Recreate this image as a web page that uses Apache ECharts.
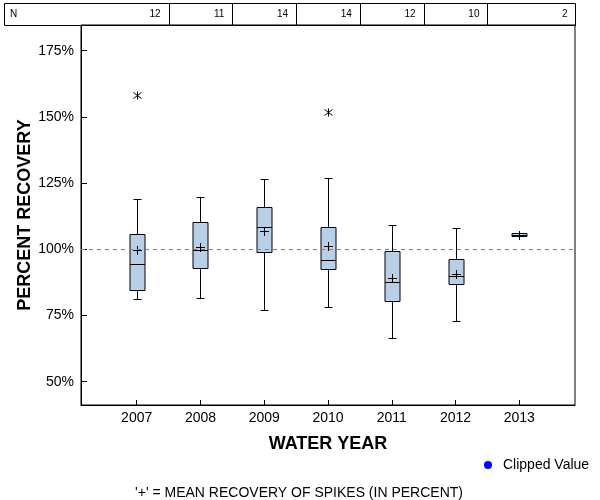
<!DOCTYPE html>
<html><head><meta charset="utf-8">
<script src="https://cdn.jsdelivr.net/npm/echarts@6/dist/echarts.min.js"></script>
<style>html,body{margin:0;padding:0;background:#fff}#c{width:600px;height:500px}</style>
</head><body><div id="c"></div>
<script>
const years = [2007, 2008, 2009, 2010, 2011, 2012, 2013];
const counts = [12, 11, 14, 14, 12, 10, 2];
const lowWhisker = [81.1, 81.5, 77.0, 78.1, 66.4, 72.8, 104.9];
const q1 = [84.5, 92.8, 98.9, 92.4, 80.4, 86.8, 104.9];
const median = [94.4, 99.6, 108.4, 95.8, 87.5, 89.8, 105.4];
const q3 = [105.7, 110.2, 115.9, 108.3, 99.2, 96.2, 106.0];
const highWhisker = [118.9, 119.9, 126.7, 127.0, 109.3, 107.9, 106.0];
const means = [99.7, 100.75, 107.0, 101.4, 89.3, 90.6, 105.4];
const outlierYears = [2007, 2010];
const outlierValues = [158.2, 152.0];
const yTicks = [50, 75, 100, 125, 150, 175];
const referenceValue = 100;

const FONT = '"Liberation Sans", Arial, sans-serif';
const chart = echarts.init(document.getElementById('c'), null, { renderer: 'canvas' });

const boxData = years.map((y, i) => [y, lowWhisker[i], q1[i], median[i], q3[i], highWhisker[i], means[i]]);
const outlierData = outlierYears.map((y, i) => [y, outlierValues[i]]);

const r = v => Math.round(v) + 0.5;
const lineStyle = { stroke: '#000', lineWidth: 1, fill: null };

function renderBox(params, api) {
  const x = api.value(0);
  const px = r(api.coord([x, 0])[0]);
  const y = k => r(api.coord([x, api.value(k)])[1]);
  const yLow = y(1), yQ1 = y(2), yMed = y(3), yQ3 = y(4), yHigh = y(5), yMean = y(6);
  const hw = 7.5, cw = 4, mw = 4.5;
  const ln = (x1, y1, x2, y2) => ({ type: 'line', shape: { x1, y1, x2, y2 }, style: lineStyle });
  return {
    type: 'group',
    children: [
      ln(px, yQ3, px, yHigh),
      ln(px, yQ1, px, yLow),
      ln(px - cw, yHigh, px + cw, yHigh),
      ln(px - cw, yLow, px + cw, yLow),
      { type: 'rect', shape: { x: px - hw, y: yQ3, width: hw * 2, height: yQ1 - yQ3 },
        style: { fill: '#b9cfe7', stroke: '#000', lineWidth: 1 } },
      ln(px - hw, yMed, px + hw, yMed),
      ln(px - mw, yMean, px + mw, yMean),
      ln(px, yMean - mw, px, yMean + mw)
    ]
  };
}

function renderOutlier(params, api) {
  const p = api.coord([api.value(0), api.value(1)]);
  const cx = Math.round(p[0]) + 0.5, cy = Math.round(p[1]) + 0.5;
  return {
    type: 'group',
    children: [
      { type: 'line', shape: { x1: cx, y1: cy - 4, x2: cx, y2: cy + 4 }, style: lineStyle },
      { type: 'line', shape: { x1: cx - 4, y1: cy - 3, x2: cx + 4, y2: cy + 3 }, style: lineStyle },
      { type: 'line', shape: { x1: cx - 4, y1: cy + 3, x2: cx + 4, y2: cy - 3 }, style: lineStyle }
    ]
  };
}

chart.setOption({
  animation: false,
  backgroundColor: '#fff',
  textStyle: { fontFamily: FONT },
  grid: { left: 81, right: 25, top: 25, bottom: 95, show: true, borderColor: '#000', borderWidth: 1 },
  legend: {
    left: 484, top: 457, padding: 0, itemWidth: 20, itemHeight: 8,
    icon: 'circle',
    textStyle: { fontFamily: FONT, fontSize: 14, color: '#000', lineHeight: 16 },
    data: ['Clipped Value']
  },
  xAxis: {
    type: 'value', min: 2006.127, max: 2013.873,
    name: 'WATER YEAR', nameLocation: 'middle', nameGap: 30,
    nameTextStyle: { fontFamily: FONT, fontSize: 18, fontWeight: 'bold', color: '#000' },
    axisLine: { show: true, lineStyle: { color: '#000', width: 1 } },
    axisTick: { show: true, inside: true, length: 5, customValues: years, lineStyle: { color: '#000' } },
    axisLabel: { customValues: years, formatter: v => String(v), fontFamily: FONT, fontSize: 14, color: '#000', margin: 6 },
    splitLine: { show: false }
  },
  yAxis: {
    type: 'value', min: 41.2, max: 184.7,
    name: 'PERCENT RECOVERY', nameLocation: 'middle', nameGap: 47, nameMoveOverlap: false,
    nameTextStyle: { fontFamily: FONT, fontSize: 18, fontWeight: 'bold', color: '#000' },
    axisLine: { show: true, lineStyle: { color: '#000', width: 1 } },
    axisTick: { show: true, inside: true, length: 6, customValues: yTicks, lineStyle: { color: '#000' } },
    axisLabel: { customValues: yTicks, formatter: v => v + '%', fontFamily: FONT, fontSize: 14, color: '#000', margin: 7 },
    splitLine: { show: false }
  },
  series: [
    {
      type: 'custom', name: 'Recovery', renderItem: renderBox, data: boxData,
      encode: { x: 0, y: [1, 2, 3, 4, 5, 6] }, z: 3,
      markLine: {
        silent: true, symbol: 'none', label: { show: false },
        lineStyle: { color: '#808080', type: [4, 4], width: 1 },
        data: [{ yAxis: referenceValue }]
      }
    },
    { type: 'custom', name: 'Outliers', renderItem: renderOutlier, data: outlierData, encode: { x: 0, y: 1 }, z: 3 },
    { type: 'scatter', name: 'Clipped Value', data: [], itemStyle: { color: '#0000ff', opacity: 1 }, symbol: 'circle' }
  ]
});

// N table above the plot
const tableTop = 3, tableBottom = 25, tableLeft = 4, tableRight = 575.5;
const graphics = [];
graphics.push({ type: 'rect', shape: { x: tableLeft + 0.5, y: tableTop + 0.5, width: tableRight - tableLeft - 0.5, height: tableBottom - tableTop },
  style: { fill: null, stroke: '#000', lineWidth: 1 } });
graphics.push({ type: 'text', x: 10, y: (tableTop + tableBottom) / 2 + 0.5,
  style: { text: 'N', fontFamily: FONT, fontSize: 10, fill: '#000', verticalAlign: 'middle', align: 'left' } });
years.forEach((y, i) => {
  const right = i < years.length - 1 ? chart.convertToPixel({ xAxisIndex: 0 }, y + 0.5) : tableRight;
  if (i < years.length - 1) {
    const xr = Math.round(right) + 0.5;
    graphics.push({ type: 'line', shape: { x1: xr, y1: tableTop, x2: xr, y2: tableBottom }, style: lineStyle });
  }
  graphics.push({ type: 'text', x: right - 8, y: (tableTop + tableBottom) / 2 + 0.5,
    style: { text: String(counts[i]), fontFamily: FONT, fontSize: 10, fill: '#000', verticalAlign: 'middle', align: 'right' } });
});
graphics.push({ type: 'text', x: 299, y: 493,
  style: { text: "'+' = MEAN RECOVERY OF SPIKES (IN PERCENT)", fontFamily: FONT, fontSize: 14, fill: '#000', align: 'center', verticalAlign: 'middle' } });
chart.setOption({ graphic: graphics });
</script></body></html>
